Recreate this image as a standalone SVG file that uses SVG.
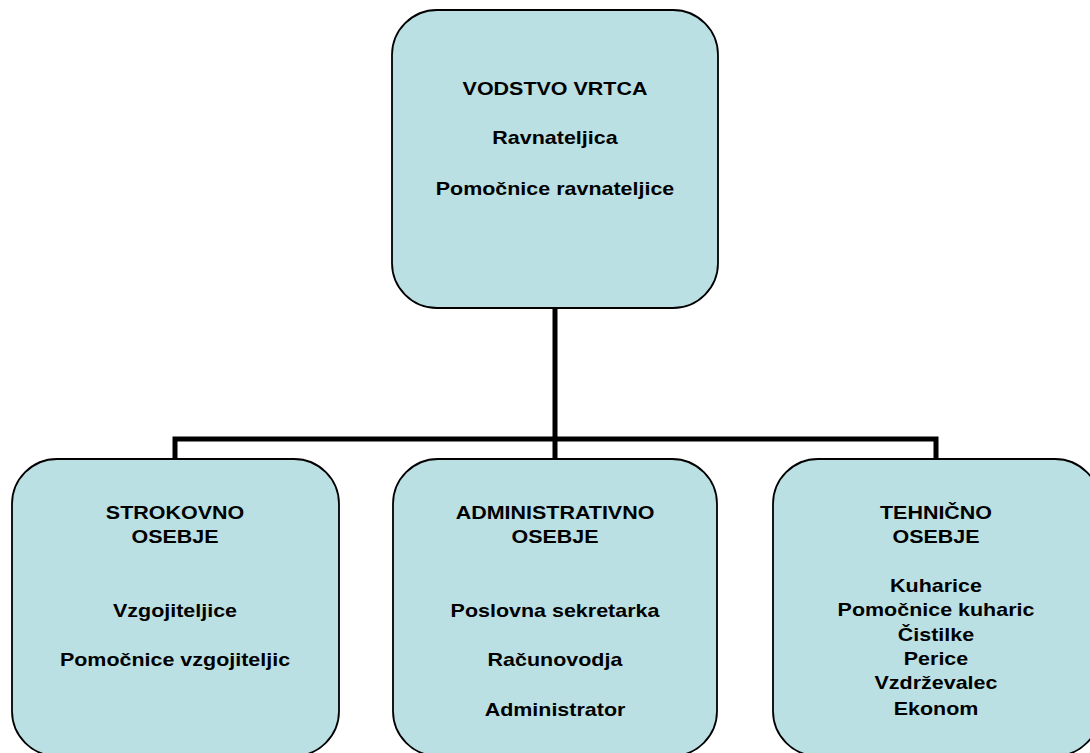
<svg xmlns="http://www.w3.org/2000/svg" width="1090" height="753" viewBox="0 0 1090 753">
<style>
.box{fill:#BBE0E3;stroke:#000;stroke-width:1.8}
.conn{fill:none;stroke:#000;stroke-width:5}
text{font-family:"Liberation Sans",Arial,sans-serif;font-weight:bold;font-size:19px;fill:#000;text-anchor:middle}
</style>
<rect width="1090" height="753" fill="#fff"/>
<g id="connectors">
<path class="conn" d="M555 308V439M175 461V439H936V461M555 439V461"/>
</g>
<g id="vodstvo">
<rect class="box" x="392" y="10" width="326" height="298" rx="45" ry="45"/>
<text transform="translate(555,95) scale(1.13,1)">VODSTVO VRTCA</text>
<text transform="translate(555,144) scale(1.13,1)">Ravnateljica</text>
<text transform="translate(555,195) scale(1.13,1)">Pomočnice ravnateljice</text>
</g>
<g id="strokovno">
<rect class="box" x="12" y="459" width="327" height="297" rx="45" ry="45"/>
<text transform="translate(175,519) scale(1.13,1)">STROKOVNO</text>
<text transform="translate(175,543) scale(1.13,1)">OSEBJE</text>
<text transform="translate(175,617) scale(1.13,1)">Vzgojiteljice</text>
<text transform="translate(175,666) scale(1.13,1)">Pomočnice vzgojiteljic</text>
</g>
<g id="administrativno">
<rect class="box" x="393" y="459" width="324" height="297" rx="45" ry="45"/>
<text transform="translate(555,519) scale(1.13,1)">ADMINISTRATIVNO</text>
<text transform="translate(555,543) scale(1.13,1)">OSEBJE</text>
<text transform="translate(555,617) scale(1.13,1)">Poslovna sekretarka</text>
<text transform="translate(555,666) scale(1.13,1)">Računovodja</text>
<text transform="translate(555,716) scale(1.13,1)">Administrator</text>
</g>
<g id="tehnicno">
<rect class="box" x="773" y="459" width="327" height="297" rx="45" ry="45"/>
<text transform="translate(936,519) scale(1.13,1)">TEHNIČNO</text>
<text transform="translate(936,543) scale(1.13,1)">OSEBJE</text>
<text transform="translate(936,592) scale(1.13,1)">Kuharice</text>
<text transform="translate(936,616) scale(1.13,1)">Pomočnice kuharic</text>
<text transform="translate(936,641) scale(1.13,1)">Čistilke</text>
<text transform="translate(936,665) scale(1.13,1)">Perice</text>
<text transform="translate(936,689) scale(1.13,1)">Vzdrževalec</text>
<text transform="translate(936,715) scale(1.13,1)">Ekonom</text>
</g>
</svg>
